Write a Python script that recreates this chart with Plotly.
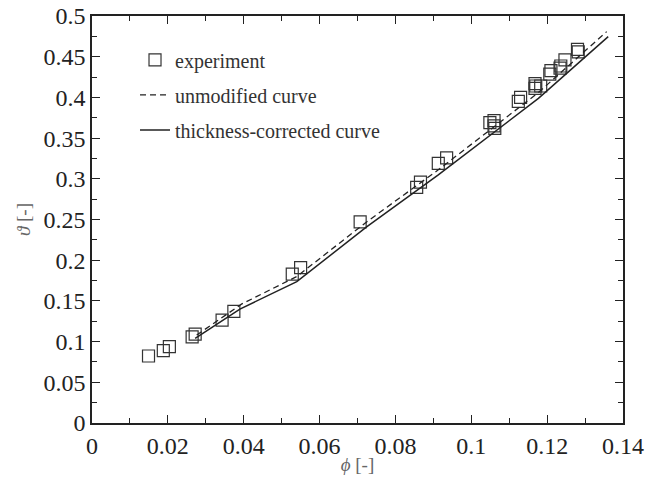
import plotly.graph_objects as go

exp_phi = [0.0149, 0.0188, 0.0204, 0.0264, 0.0272, 0.0343, 0.0374, 0.0528, 0.0550,
           0.0707, 0.0856, 0.0866, 0.0913, 0.0935, 0.1049, 0.1060, 0.1060, 0.1062,
           0.1124, 0.1130, 0.1168, 0.1168, 0.1170, 0.1183, 0.1207, 0.1210, 0.1234,
           0.1236, 0.1247, 0.1280, 0.1282]
exp_theta = [0.0823, 0.0889, 0.0938, 0.1057, 0.1093, 0.1265, 0.1372, 0.1830, 0.1910,
             0.2470, 0.2895, 0.2960, 0.3190, 0.3256, 0.3690, 0.3714, 0.3650, 0.3620,
             0.3950, 0.4000, 0.4170, 0.4110, 0.4140, 0.4140, 0.4287, 0.4330, 0.4360,
             0.4386, 0.4460, 0.4590, 0.4560]

unmod_phi = [0.0276, 0.0394, 0.0540, 0.0724, 0.0913, 0.1177, 0.1357]
unmod_theta = [0.108, 0.146, 0.180, 0.247, 0.311, 0.406, 0.4808]

corr_phi = [0.0272, 0.0390, 0.0540, 0.0724, 0.0913, 0.1177, 0.1361]
corr_theta = [0.104, 0.140, 0.1736, 0.241, 0.3047, 0.3988, 0.4746]

FONT = "Liberation Serif, Times New Roman, serif"
INK = "#222222"

fig = go.Figure()
fig.add_trace(go.Scatter(
    x=exp_phi, y=exp_theta, mode="markers", name="experiment", legendgroup="a",
    marker=dict(symbol="square-open", size=12, color="#333333", line=dict(width=1.2)),
))
fig.add_trace(go.Scatter(
    x=unmod_phi, y=unmod_theta, mode="lines", name="unmodified curve", legendgroup="b",
    line=dict(color=INK, width=1.3, dash="6px,4px"),
))
fig.add_trace(go.Scatter(
    x=corr_phi, y=corr_theta, mode="lines", name="thickness-corrected curve", legendgroup="c",
    line=dict(color=INK, width=1.5),
))

axis_common = dict(
    showgrid=False, zeroline=False, showline=True, linecolor=INK, linewidth=1.5,
    mirror="allticks", ticks="inside", ticklen=8, tickwidth=1.2, tickcolor=INK,
    tickfont=dict(family=FONT, size=24, color=INK), automargin=False,
)

fig.update_layout(
    width=647, height=483,
    margin=dict(l=92, r=24, t=16, b=60),
    paper_bgcolor="white", plot_bgcolor="white",
    font=dict(family=FONT, color=INK),
    xaxis=dict(range=[0, 0.14], dtick=0.02, tickformat="~g",
               minor=dict(dtick=0.01, ticks="inside", ticklen=5, tickcolor=INK),
               title=dict(text="<i>ϕ</i> [-]", font=dict(family=FONT, size=19, color="#666666"),
                          standoff=0),
               **axis_common),
    yaxis=dict(range=[0, 0.5], dtick=0.05, tickformat="~g",
               minor=dict(dtick=0.025, ticks="inside", ticklen=5, tickcolor=INK),
               title=dict(text="<i>ϑ</i> [-]", font=dict(family=FONT, size=19, color="#666666"),
                          standoff=8),
               **axis_common),
    legend=dict(x=0.081, y=0.94, xanchor="left", yanchor="top", bgcolor="rgba(0,0,0,0)",
                font=dict(family=FONT, size=20, color="#333333"), tracegroupgap=6),
    showlegend=True,
)

fig.write_html("out.html", config={"displayModeBar": False},
               post_script="document.body.style.margin='0px';")
